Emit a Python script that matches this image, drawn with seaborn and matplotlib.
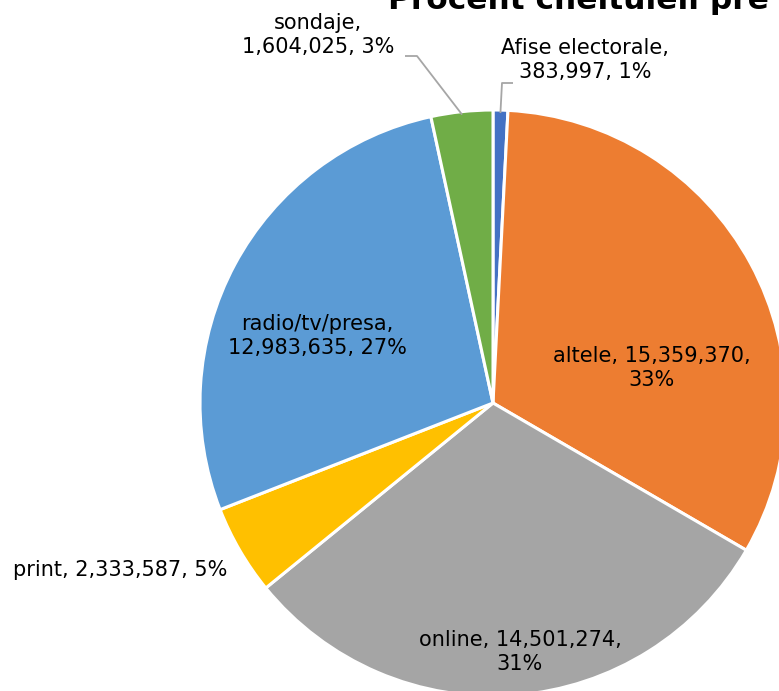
import numpy as np
import matplotlib
matplotlib.use("Agg")
import matplotlib.pyplot as plt
import seaborn as sns

# Spending per category
categories = ["Afise electorale", "altele", "online", "print", "radio/tv/presa", "sondaje"]
values = [383997, 15359370, 14501274, 2333587, 12983635, 1604025]
percents = [1, 33, 31, 5, 27, 3]
colors = ["#4472C4", "#ED7D31", "#A5A5A5", "#FFC000", "#5B9BD5", "#70AD47"]
title = "Procent cheltuieli pre campanie"

sns.set_theme(style="white")
plt.rcParams["font.family"] = ["DejaVu Sans"]

W, H = 779, 691
fig = plt.figure(figsize=(W / 100, H / 100), dpi=100)
fig.patch.set_facecolor("white")

# pie centre and radius in pixels
cx, cy, r = 493, 403, 293
ax = fig.add_axes([(cx - r) / W, (H - cy - r) / H, 2 * r / W, 2 * r / H])

wedges, _ = ax.pie(values, colors=colors, startangle=90, counterclock=False,
                   wedgeprops=dict(edgecolor="white", linewidth=2.2))
ax.set_xlim(-1, 1)
ax.set_ylim(-1, 1)
ax.set_aspect("equal")
ax.axis("off")


def px(x, y):
    return ((x - cx) / r, (cy - y) / r)


label_px = {
    "Afise electorale": (585, 60, "{c},\n{v}, {p}%"),
    "altele": (652, 368, "{c}, {v},\n{p}%"),
    "online": (520, 652, "{c}, {v},\n{p}%"),
    "print": (120, 570, "{c}, {v}, {p}%"),
    "radio/tv/presa": (317, 336, "{c},\n{v}, {p}%"),
    "sondaje": (318, 35, "{c},\n{v}, {p}%"),
}

for c, v, p in zip(categories, values, percents):
    x, y, fmt = label_px[c]
    tx, ty = px(x, y)
    ax.text(tx, ty, fmt.format(c=c, v=f"{v:,}", p=p), ha="center", va="center",
            fontsize=15, color="#000000", linespacing=1.2, clip_on=False)


# leader lines for the two thin slices
def wedge_edge(w, frac=1.0):
    ang = np.deg2rad((w.theta1 + w.theta2) / 2)
    return np.cos(ang) * frac, np.sin(ang) * frac


line_kw = dict(color="#A6A6A6", linewidth=1.3, clip_on=False, solid_capstyle="butt")
ex, ey = wedge_edge(wedges[5], 0.99)
pts = [px(405, 56), px(417, 56), (ex, ey)]
ax.plot([p[0] for p in pts], [p[1] for p in pts], **line_kw)

ex, ey = wedge_edge(wedges[0], 0.99)
pts = [px(513, 83), px(502, 83), (ex, ey)]
ax.plot([p[0] for p in pts], [p[1] for p in pts], **line_kw)

fig.text(388 / W, 1 - 9 / H, title, ha="left", va="baseline",
         fontsize=22.5, fontweight="bold", color="#000000")

fig.savefig("out.png", dpi=100, facecolor="white")
